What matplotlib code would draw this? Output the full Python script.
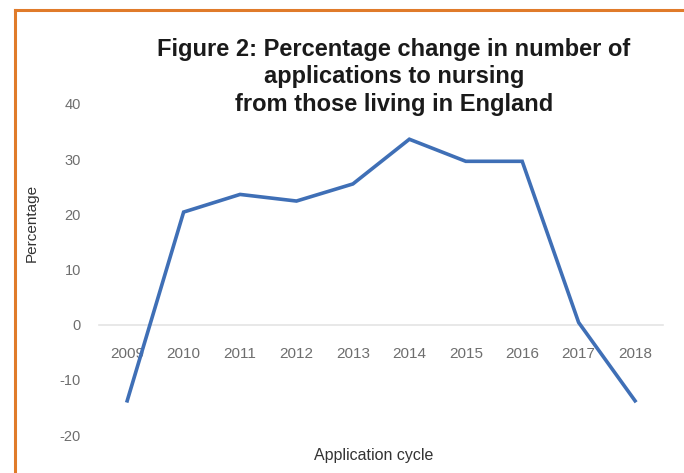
import matplotlib.pyplot as plt
from matplotlib.lines import Line2D

years = ['2009', '2010', '2011', '2012', '2013', '2014', '2015', '2016', '2017', '2018']
pct_change = [-13.8, 20.4, 23.6, 22.4, 25.5, 33.6, 29.6, 29.6, 0.4, -13.8]
y_ticks = [-20, -10, 0, 10, 20, 30, 40]

plt.rcParams['font.family'] = ['Liberation Sans', 'DejaVu Sans']

fig = plt.figure(figsize=(6.84, 4.73), dpi=100)
ax = fig.add_axes([0.1447, 0.0803, 0.825, 0.700])

x = list(range(len(years)))
ax.plot(x, pct_change, color='#3F6FB6', linewidth=2.6, solid_joinstyle='miter', zorder=3)

ax.set_xlim(-0.5, len(years) - 0.5)
ax.set_ylim(-20, 40)
ax.set_yticks(y_ticks)
ax.set_yticklabels([str(t) for t in y_ticks])
ax.tick_params(axis='y', length=0, pad=13, labelsize=10.5, labelcolor='#6e6e6e')
ax.set_xticks(x)
ax.set_xticklabels(years)
ax.tick_params(axis='x', length=0, pad=16, labelsize=11, labelcolor='#6e6e6e')

for s in ['top', 'right', 'left']:
    ax.spines[s].set_visible(False)
ax.spines['bottom'].set_position(('data', 0))
ax.spines['bottom'].set_color('#E4E4E4')
ax.spines['bottom'].set_linewidth(1.2)

ax.set_ylabel('Percentage', fontsize=11, color='#333333')
ax.yaxis.set_label_coords(-0.106, 0.64)
ax.set_xlabel('Application cycle', fontsize=11.5, color='#333333')
ax.xaxis.set_label_coords(0.486, -0.04)

fig.text(0.576, 0.838, 'Figure 2: Percentage change in number of\napplications to nursing\nfrom those living in England',
         ha='center', va='center', fontsize=17, fontweight='bold', color='#1a1a1a', linespacing=1.25)

# orange frame on top and left edges
fig.add_artist(Line2D([0.022, 1.0], [0.979, 0.979], color='#E07B2A', linewidth=2.2, transform=fig.transFigure))
fig.add_artist(Line2D([0.022, 0.022], [0.0, 0.979], color='#E07B2A', linewidth=2.2, transform=fig.transFigure))

fig.savefig('out.png', dpi=100)
